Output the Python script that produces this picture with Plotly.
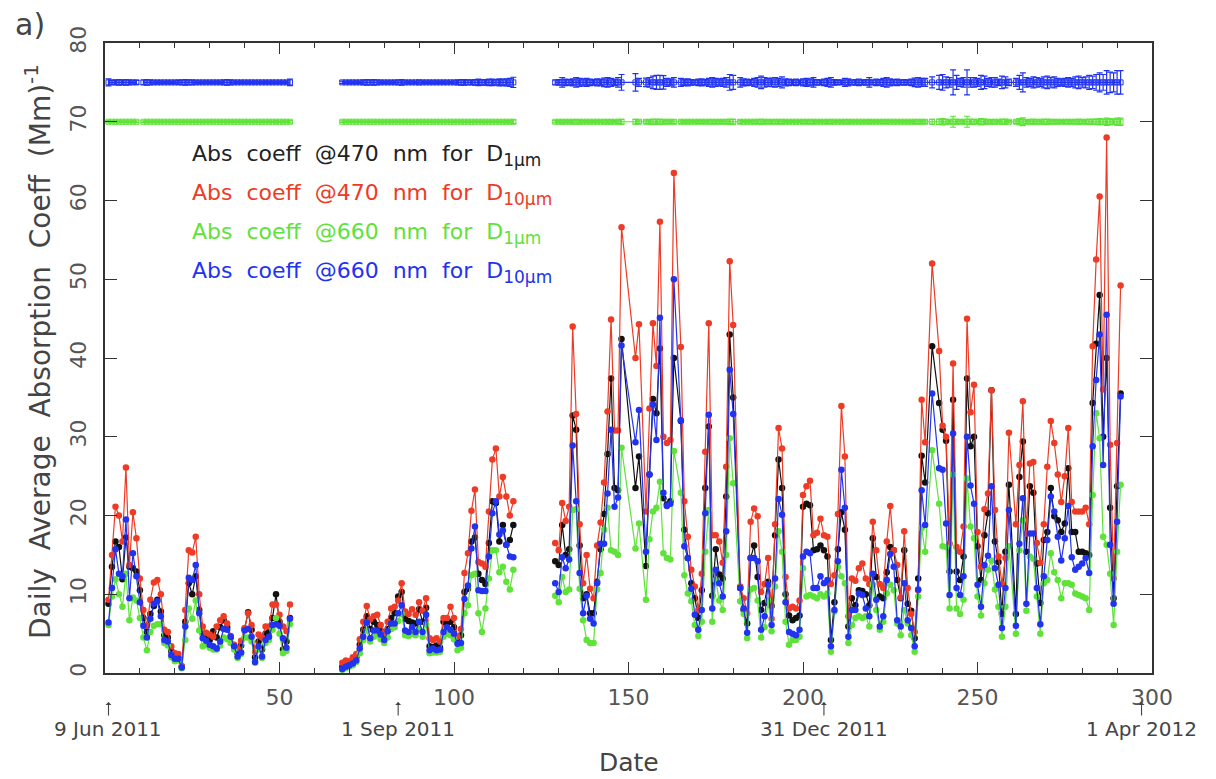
import plotly.graph_objects as go

# ---------------- data ----------------
# day index (day 1 = 9 Jun 2011)
days_seg1 = list(range(1, 54))
days_seg2 = list(range(68, 118))
days_seg3 = ([129, 130, 131, 132, 133, 134, 135, 136, 137, 138, 139, 140, 141, 142, 143, 144, 145, 146, 147, 148]
             + [152, 153, 155, 156, 157, 158, 159, 160, 161, 162, 163, 165, 166, 167, 168, 169, 170, 171, 172,
                173, 174, 175, 176, 177, 178, 179, 180, 182, 183, 184, 185, 186, 187]
             + list(range(188, 235))
             + [235, 237, 239] + list(range(240, 260)) + list(range(261, 292)))

# Abs coeff @470 nm for D10um (red)
abs470_d10_s1 = [9.3, 15.0, 21.1, 20.0, 16.7, 26.1, 13.7, 20.4, 17.1, 12.0, 8.0, 6.0, 9.3, 11.5, 11.8, 10.0, 5.5, 5.2,
                 3.4, 2.5, 2.4, 0.9, 8.0, 15.6, 15.3, 17.3, 10.0, 5.9, 5.1, 4.9, 4.6, 5.9, 6.7, 7.2, 6.3, 4.7, 3.6,
                 3.1, 4.1, 5.7, 7.6, 6.1, 2.7, 4.9, 4.5, 5.9, 5.9, 8.7, 8.7, 7.4, 5.9, 5.3, 8.7]
abs470_d10_s2 = [1.3, 1.6, 1.5, 2.0, 2.4, 4.3, 6.5, 8.5, 6.8, 7.2, 7.4, 6.1, 5.1, 6.5, 8.2, 8.4, 9.2, 11.4, 7.8, 7.5,
                 8.1, 7.4, 9.0, 7.9, 9.5, 4.4, 4.2, 4.4, 4.0, 7.0, 7.0, 8.4, 7.0, 4.6, 5.6, 12.7, 15.2, 20.6, 23.3,
                 14.1, 13.9, 13.5, 20.5, 27.1, 28.5, 22.4, 24.9, 22.4, 20.0, 21.8]
abs470_d10_s3 = ([16.5, 15.6, 21.6, 19.3, 21.1, 44.0, 32.9, 18.9, 11.4, 15.0, 10.7, 9.5, 16.2, 19.1, 24.2, 33.2, 44.9,
                  30.8, 30.8, 56.6]
                 + [40.0, 44.3, 20.5, 33.6, 44.4, 39.0, 57.3, 30.0, 29.2, 29.6, 63.5, 41.4, 21.8, 17.3, 13.1, 11.0,
                    8.0, 12.6, 28.1, 44.4, 17.5, 17.5, 16.7, 14.0, 26.2, 52.3, 44.2, 11.0, 9.5, 7.6, 19.2, 20.9, 19.9]
                 + [10.3, 11.3, 14.6, 6.9, 18.9, 31.1, 28.5, 12.2, 8.2, 8.4, 8.2, 9.2, 22.6, 23.7, 24.4, 17.5, 17.8,
                    19.6, 17.5, 17.3, 11.3, 12.4, 20.2, 33.9, 27.5, 7.2, 12.0, 11.7, 13.3, 13.9, 12.0, 11.3, 19.2,
                    15.6, 11.3, 10.8, 16.7, 21.2, 15.6, 13.7, 9.6, 18.0, 10.8, 7.5, 5.2, 10.5, 34.7]
                 + [29.3, 52.0, 40.9, 31.4, 30.0, 16.4, 39.3, 16.0, 15.4, 18.6, 45.0, 33.1, 36.6, 17.9, 13.5, 20.8,
                    22.8, 35.9, 20.7, 14.8, 11.3, 14.6, 30.5, 18.9, 26.4, 34.5, 17.7, 26.6, 26.8, 16.5, 14.0, 18.9,
                    26.2, 32.0, 29.2, 25.2, 21.7, 25.0, 31.1, 21.7, 20.5, 20.5, 20.5, 21.0, 18.9, 41.5, 52.5, 60.5,
                    36.0, 68.0, 29.0, 12.0, 29.2, 49.2])

# Abs coeff @470 nm for D1um (black)
abs470_d1_s1 = [8.8, 13.5, 16.7, 16.0, 11.9, 17.2, 13.5, 13.3, 12.9, 10.5, 7.0, 5.2, 7.5, 8.5, 9.3, 7.8, 4.8, 4.5,
                2.8, 2.0, 2.0, 0.8, 6.5, 11.4, 10.0, 12.3, 8.0, 5.0, 4.5, 4.2, 5.3, 4.5, 5.8, 6.7, 5.8, 4.5, 3.5,
                2.5, 3.5, 5.6, 7.7, 5.5, 2.0, 4.0, 3.0, 5.0, 5.2, 7.0, 10.0, 6.5, 3.0, 4.0, 7.0]
abs470_d1_s2 = [0.8, 1.1, 1.2, 1.5, 2.0, 3.6, 5.5, 7.2, 5.6, 6.5, 6.1, 5.4, 4.6, 5.6, 7.0, 7.6, 9.7, 10.3, 6.9, 6.6,
                6.4, 6.3, 8.1, 6.5, 8.3, 3.4, 3.3, 3.5, 3.2, 6.5, 6.3, 6.5, 5.8, 4.0, 4.8, 10.3, 10.7, 16.7, 17.2,
                12.6, 11.8, 11.3, 16.5, 21.8, 21.6, 16.7, 18.8, 16.3, 16.9, 18.8]
abs470_d1_s3 = ([14.2, 13.7, 18.8, 15.0, 15.7, 32.7, 30.9, 16.2, 9.5, 10.0, 7.6, 7.6, 11.6, 15.7, 20.2, 27.8, 37.4,
                 23.5, 23.2, 42.4]
                + [23.5, 27.5, 13.6, 25.2, 34.8, 33.0, 41.2, 22.2, 21.4, 21.8, 40.0, 32.0, 18.2, 14.6, 11.4, 9.5,
                   7.0, 10.5, 23.5, 31.3, 9.8, 15.7, 12.5, 12.0, 22.4, 43.0, 35.0, 10.8, 8.0, 6.3, 14.6, 16.2, 12.2]
                + [8.0, 8.9, 11.6, 8.5, 17.5, 27.1, 23.5, 10.0, 7.3, 6.7, 7.0, 7.3, 21.1, 21.5, 21.3, 15.6, 15.7,
                   16.2, 15.6, 14.8, 4.2, 9.0, 15.7, 20.4, 18.2, 5.9, 9.5, 8.6, 10.5, 10.4, 10.0, 8.6, 17.1, 12.2,
                   9.7, 9.5, 12.8, 16.0, 15.6, 11.8, 9.5, 15.6, 8.8, 7.9, 4.4, 12.0, 27.6]
                + [24.2, 41.5, 34.3, 30.9, 29.5, 12.9, 34.7, 12.9, 11.8, 14.8, 37.4, 28.8, 30.0, 16.1, 11.8, 17.5,
                   20.3, 35.9, 16.7, 14.1, 7.5, 15.4, 23.9, 7.5, 24.9, 29.4, 15.4, 23.7, 22.9, 13.9, 8.9, 16.9,
                   17.9, 23.5, 19.9, 19.4, 17.9, 19.0, 26.0, 17.9, 17.9, 15.4, 15.4, 15.2, 15.0, 34.3, 41.8, 48.0,
                   30.0, 40.0, 21.0, 9.5, 23.7, 35.5])

# Abs coeff @660 nm for D10um (blue)
abs660_d10_s1 = [6.4, 10.8, 15.7, 12.6, 12.3, 19.5, 9.5, 15.2, 12.3, 9.0, 6.0, 4.5, 6.9, 8.8, 9.1, 7.2, 4.2, 4.0,
                 2.3, 1.8, 1.8, 0.7, 5.9, 12.1, 11.8, 13.7, 7.6, 4.4, 4.1, 3.6, 3.4, 3.1, 4.0, 5.6, 5.5, 4.6, 3.4,
                 2.1, 2.6, 5.4, 5.6, 4.6, 1.4, 3.4, 2.1, 4.2, 4.6, 6.1, 6.2, 6.0, 4.4, 3.2, 6.9]
abs660_d10_s2 = [0.5, 0.8, 1.0, 1.2, 1.6, 3.1, 4.6, 6.4, 4.4, 5.4, 5.4, 4.9, 4.2, 5.3, 6.3, 6.3, 7.6, 8.6, 5.4, 5.2,
                 5.8, 5.2, 6.5, 5.2, 7.4, 2.9, 3.1, 2.9, 3.0, 5.2, 5.8, 5.5, 5.0, 3.7, 3.8, 9.4, 11.1, 15.8, 18.6,
                 10.5, 10.4, 10.4, 14.8, 20.3, 21.8, 17.6, 18.1, 16.3, 14.8, 14.7]
abs660_d10_s3 = ([11.4, 10.3, 14.7, 13.3, 14.4, 28.9, 21.8, 12.7, 7.6, 9.8, 6.9, 6.3, 11.4, 16.4, 16.4, 22.8, 30.9,
                  21.1, 22.3, 41.6]
                 + [29.3, 33.4, 15.4, 25.2, 34.1, 29.6, 45.1, 22.9, 21.2, 21.5, 50.0, 32.1, 16.1, 14.6, 10.7, 7.4,
                    5.5, 8.0, 20.3, 32.8, 8.2, 13.1, 11.4, 9.7, 18.0, 38.5, 32.9, 10.8, 8.2, 5.1, 14.6, 14.6, 14.2]
                 + [5.5, 7.2, 11.2, 6.1, 12.0, 22.1, 20.1, 9.0, 5.2, 5.0, 4.8, 5.5, 14.8, 15.4, 15.2, 10.8, 10.8,
                    12.3, 11.4, 11.8, 3.4, 8.0, 14.2, 25.8, 21.0, 4.6, 8.0, 8.0, 10.1, 9.9, 8.2, 7.2, 12.6, 9.3, 5.9,
                    7.2, 11.8, 15.1, 13.5, 6.7, 5.9, 11.4, 6.7, 5.7, 3.4, 10.6, 23.2]
                 + [18.8, 35.5, 26.0, 25.8, 19.0, 9.9, 30.4, 10.8, 9.9, 12.3, 30.0, 23.8, 21.5, 11.2, 8.4, 13.7,
                    14.9, 23.7, 13.3, 11.2, 5.7, 10.8, 20.7, 6.0, 16.4, 22.2, 8.8, 17.7, 17.7, 10.8, 6.2, 12.3, 16.9,
                    22.4, 20.5, 17.3, 14.3, 17.1, 21.2, 14.7, 13.1, 13.5, 13.9, 14.6, 12.7, 28.8, 37.2, 43.0, 26.4,
                    45.5, 16.3, 8.8, 19.2, 35.1])

# Abs coeff @660 nm for D1um (green)
abs660_d1_s1 = [6.1, 9.7, 11.9, 10.0, 8.4, 12.6, 6.7, 9.6, 9.2, 7.0, 4.5, 2.9, 5.2, 6.0, 6.2, 6.2, 3.8, 3.5, 2.0,
                1.5, 1.6, 0.6, 4.2, 8.2, 6.9, 9.2, 5.4, 3.4, 3.6, 3.2, 3.0, 3.0, 3.5, 4.5, 4.3, 3.8, 3.0, 1.9, 2.4,
                4.5, 4.5, 4.0, 1.3, 3.0, 1.9, 3.8, 4.2, 5.5, 7.0, 5.0, 2.5, 2.8, 6.2]
abs660_d1_s2 = [0.4, 0.6, 0.8, 1.0, 1.4, 2.5, 4.2, 5.4, 4.0, 4.6, 4.8, 4.3, 3.8, 4.5, 5.6, 5.8, 6.6, 7.5, 4.8, 4.7,
                5.0, 4.8, 5.6, 4.6, 6.2, 2.5, 2.6, 2.6, 2.7, 4.6, 5.0, 4.8, 4.3, 2.9, 3.2, 7.6, 8.6, 12.4, 12.6, 7.6,
                5.2, 8.2, 12.0, 15.6, 15.6, 12.8, 13.5, 11.6, 10.6, 13.1]
abs660_d1_s3 = ([9.8, 9.0, 12.2, 10.3, 10.6, 20.7, 20.8, 10.7, 6.7, 4.2, 3.8, 3.8, 10.6, 12.7, 18.2, 21.0, 15.6, 15.4,
                 15.0, 28.6]
                + [15.8, 19.0, 9.3, 17.0, 20.5, 21.0, 24.3, 15.2, 14.6, 14.4, 28.2, 22.9, 12.4, 10.1, 9.1, 6.1, 4.7,
                   6.5, 15.4, 20.7, 6.5, 11.8, 9.2, 8.0, 15.0, 29.8, 24.1, 9.1, 7.5, 4.4, 10.6, 10.8, 9.2]
                + [4.5, 5.8, 9.2, 5.3, 11.0, 18.0, 15.4, 6.5, 3.6, 4.2, 4.2, 4.6, 13.3, 9.7, 9.9, 9.7, 9.5, 10.0,
                   9.7, 10.1, 2.7, 7.8, 13.5, 12.3, 11.4, 3.8, 6.1, 7.0, 7.2, 7.0, 7.2, 5.9, 11.2, 8.0, 5.5, 6.5,
                   10.1, 11.2, 10.5, 6.3, 4.8, 8.0, 6.3, 4.8, 2.7, 9.7, 18.4]
                + [15.4, 28.3, 21.5, 16.1, 16.0, 8.2, 25.2, 8.2, 7.5, 9.3, 24.7, 18.6, 17.1, 9.7, 7.3, 11.4, 13.1,
                   14.3, 10.6, 8.4, 4.6, 8.4, 16.1, 5.0, 15.6, 19.4, 7.9, 14.8, 14.5, 9.7, 5.0, 11.4, 11.8, 15.2,
                   12.8, 11.8, 9.5, 11.4, 11.4, 11.2, 10.1, 9.9, 9.7, 9.5, 8.0, 22.6, 33.0, 29.8, 17.3, 16.3, 12.6,
                   6.1, 15.4, 23.9])

# error strips drawn at the top of the panel
strip_level_660_d10 = 75.0
strip_level_660_d1 = 70.0
strip_err_660_d10_s1 = [0.45, 0.25, 0.3, 0.35, 0.3, 0.35, 0.3, 0.2, 0.25, None, 0.3, 0.35, 0.3, 0.2, 0.2, 0.2, 0.15,
                        0.2, 0.15, 0.2, 0.25, 0.3, 0.35, 0.3, 0.3, 0.2, 0.2, 0.15, 0.2, 0.15, 0.15, 0.2, 0.15, 0.3,
                        0.35, 0.3, 0.2, 0.15, 0.2, 0.15, 0.2, 0.15, 0.2, 0.15, 0.15, 0.2, 0.15, 0.2, 0.15, 0.2, 0.15,
                        0.2, 0.4]
strip_err_660_d10_s2 = [0.15, 0.15, 0.2, 0.15, 0.2, 0.15, 0.3, 0.35, 0.3, 0.35, 0.3, 0.2, 0.15, 0.2, 0.2, 0.2, 0.3,
                        0.35, 0.2, 0.2, 0.2, 0.15, 0.3, 0.2, 0.15, 0.2, 0.2, 0.2, 0.15, 0.2, 0.2, 0.15, 0.2, 0.3,
                        0.35, 0.35, 0.3, 0.3, 0.35, 0.4, 0.35, 0.35, 0.4, 0.4, 0.35, 0.45, 0.4, 0.45, 0.5, 0.65]
strip_err_660_d10_s3 = ([0.3, 0.35, 0.6, 0.4, 0.35, 0.45, 0.6, 0.5, 0.45, 0.5, 0.4, 0.35, 0.45, 0.4, 0.55, 0.6, 0.5,
                         0.4, 0.6, 1.0]
                        + [1.1, 0.5, 0.55, 0.6, 0.8, 0.9, 0.9, 0.85, 0.5, 0.45, 0.6, 0.5, 0.4, 0.45, 0.35, 0.3, 0.4,
                           0.45, 0.35, 0.5, 0.6, 0.5, 0.45, 0.5, 0.6, 1.0, 0.9, 0.6, 0.45, 0.4, 0.35, 0.5, 0.6]
                        + [0.8, 0.6, 0.5, 0.55, 0.6, 0.5, 0.7, 0.45, 0.4, 0.35, 0.4, 0.3, 0.45, 0.5, 0.45, 0.6, 0.35,
                           0.3, 0.4, 0.5, 0.6, 0.35, 0.3, 0.25, 0.5, 0.45, 0.3, 0.35, 0.4, 0.3, 0.35, 0.6, 0.3, 0.4,
                           0.35, 0.5, 0.6, 0.45, 0.35, 0.4, 0.3, 0.35, 0.3, 0.4, 0.55, 0.6, 0.5]
                        + [0.5, 0.7, 0.9, 1.0, 0.7, 0.6, 1.6, 0.9, 0.5, 0.6, 1.6, 0.6, 0.6, 0.5, 0.9, 0.8, 0.5, 0.6,
                           0.6, 0.4, 0.8, 0.7, 0.4, 0.5, 0.9, 1.2, 0.6, 0.5, 0.7, 0.6, 0.5, 0.7, 0.8, 0.6, 0.7, 0.5,
                           0.45, 0.5, 0.6, 0.5, 0.7, 0.8, 0.6, 0.7, 0.9, 0.8, 1.0, 1.2, 1.0, 1.5, 1.3, 1.2, 1.5, 1.5])
strip_err_660_d1_s1 = [0.15, 0.1, 0.1, 0.1, 0.1, 0.1, 0.1, 0.1, 0.1, None, 0.1, 0.1, 0.1, 0.1, 0.1, 0.1, 0.1, 0.1,
                       0.1, 0.1, 0.1, 0.1, 0.1, 0.1, 0.1, 0.1, 0.1, 0.1, 0.1, 0.1, 0.1, 0.1, 0.1, 0.1, 0.1, 0.1, 0.1,
                       0.1, 0.1, 0.1, 0.1, 0.1, 0.1, 0.1, 0.1, 0.1, 0.1, 0.1, 0.15, 0.1, 0.1, 0.1, 0.15]
strip_err_660_d1_s2 = [0.1, 0.1, 0.1, 0.1, 0.1, 0.1, 0.1, 0.1, 0.1, 0.1, 0.1, 0.1, 0.1, 0.1, 0.1, 0.1, 0.1, 0.1,
                       0.1, 0.1, 0.1, 0.1, 0.1, 0.1, 0.1, 0.1, 0.1, 0.1, 0.1, 0.1, 0.1, 0.1, 0.1, 0.1, 0.1, 0.1, 0.1,
                       0.1, 0.1, 0.1, 0.1, 0.1, 0.1, 0.1, 0.1, 0.1, 0.1, 0.15, 0.15, 0.25]
strip_err_660_d1_s3 = ([0.15, 0.15, 0.2, 0.15, 0.15, 0.2, 0.25, 0.2, 0.15, 0.15, 0.15, 0.15, 0.15, 0.15, 0.2, 0.2,
                        0.2, 0.15, 0.2, 0.3]
                       + [0.3, 0.2, 0.2, 0.25, 0.3, 0.3, 0.3, 0.25, 0.2, 0.2, 0.25, 0.2, 0.15, 0.2, 0.15, 0.15, 0.2,
                          0.2, 0.15, 0.2, 0.25, 0.2, 0.2, 0.2, 0.25, 0.3, 0.3, 0.2, 0.15, 0.15, 0.15, 0.2, 0.2]
                       + [0.3, 0.2, 0.2, 0.2, 0.25, 0.2, 0.25, 0.15, 0.15, 0.15, 0.15, 0.15, 0.2, 0.2, 0.2, 0.2, 0.15,
                          0.15, 0.15, 0.2, 0.25, 0.15, 0.15, 0.15, 0.2, 0.2, 0.15, 0.15, 0.15, 0.15, 0.15, 0.2, 0.15,
                          0.15, 0.15, 0.2, 0.2, 0.15, 0.15, 0.15, 0.15, 0.15, 0.15, 0.15, 0.2, 0.25, 0.2]
                       + [0.2, 0.3, 0.35, 0.4, 0.3, 0.2, 0.7, 0.3, 0.2, 0.25, 0.7, 0.3, 0.3, 0.2, 0.4, 0.35, 0.2,
                          0.25, 0.25, 0.15, 0.3, 0.3, 0.15, 0.2, 0.4, 0.5, 0.25, 0.2, 0.3, 0.25, 0.2, 0.3, 0.3, 0.2,
                          0.25, 0.2, 0.15, 0.2, 0.25, 0.2, 0.25, 0.3, 0.2, 0.25, 0.3, 0.3, 0.35, 0.4, 0.35, 0.45, 0.4,
                          0.35, 0.45, 0.45])

date_marks_day = [1, 84, 206, 297]
date_marks_text = ["9 Jun 2011", "1 Sep 2011", "31 Dec 2011", "1 Apr 2012"]
x_ticks = [50, 100, 150, 200, 250, 300]
y_ticks = [0, 10, 20, 30, 40, 50, 60, 70, 80]

# ---------------- assemble (None breaks the line between measurement periods) ----------------
def join(a, b, c):
    return a + [None] + b + [None] + c

days = join(days_seg1, days_seg2, days_seg3)
series = [
    ("Abs coeff @470 nm for D1um", join(abs470_d1_s1, abs470_d1_s2, abs470_d1_s3), "#111111"),
    ("Abs coeff @470 nm for D10um", join(abs470_d10_s1, abs470_d10_s2, abs470_d10_s3), "#ee3b25"),
    ("Abs coeff @660 nm for D1um", join(abs660_d1_s1, abs660_d1_s2, abs660_d1_s3), "#5fe23a"),
    ("Abs coeff @660 nm for D10um", join(abs660_d10_s1, abs660_d10_s2, abs660_d10_s3), "#2233f0"),
]
for name, vals, col in series:
    assert len(vals) == len(days), (name, len(vals), len(days))

err_b = join(strip_err_660_d10_s1, strip_err_660_d10_s2, strip_err_660_d10_s3)
err_g = join(strip_err_660_d1_s1, strip_err_660_d1_s2, strip_err_660_d1_s3)
assert len(err_b) == len(days) and len(err_g) == len(days), (len(err_b), len(err_g), len(days))

fig = go.Figure()

for lvl, errs, col in [(strip_level_660_d1, err_g, "#5fe23a"), (strip_level_660_d10, err_b, "#2233f0")]:
    ys = [lvl if (e is not None and d is not None) else None for d, e in zip(days, errs)]
    fig.add_trace(go.Scatter(
        x=days, y=ys, mode="lines+markers", connectgaps=False,
        line=dict(color=col, width=1.2),
        marker=dict(symbol="square-open", size=5, color=col, line=dict(width=1, color=col)),
        error_y=dict(type="data", array=[e if e is not None else 0 for e in errs], visible=True,
                     color=col, thickness=1.2, width=3),
        hoverinfo="skip", showlegend=False))

for name, vals, col in series:
    fig.add_trace(go.Scatter(
        x=days, y=vals, mode="lines+markers", name=name, connectgaps=False,
        line=dict(color=col, width=1.2),
        marker=dict(symbol="circle", size=6.5, color=col, line=dict(width=0)),
        showlegend=False))

axis_col = "#333333"
fig.update_layout(
    width=1216, height=779,
    margin=dict(l=105, r=64, t=43, b=106),
    plot_bgcolor="white", paper_bgcolor="white",
    font=dict(family="DejaVu Sans", color="#444444"),
    showlegend=False,
    xaxis=dict(range=[0, 300], showgrid=False, zeroline=False, showline=True, linecolor=axis_col,
               linewidth=1.6, mirror="allticks", ticks="inside", ticklen=11, tickwidth=1.3,
               tickcolor=axis_col, tickmode="array", tickvals=x_ticks,
               tickfont=dict(size=22, color="#555555"), ticklabelstandoff=4,
               minor=dict(ticks="inside", ticklen=5, tickwidth=1.2, tickcolor=axis_col, dtick=10, tick0=0)),
    yaxis=dict(range=[0, 80], showgrid=False, zeroline=False, showline=True, linecolor=axis_col,
               linewidth=1.6, mirror="allticks", ticks="inside", ticklen=12, tickwidth=1.3,
               tickcolor=axis_col, tickmode="array", tickvals=y_ticks, tickangle=-90,
               tickfont=dict(size=22, color="#555555"), ticklabelstandoff=8),
)

def px_x(px):
    return (px - 105) / 1047.0

def px_y(py):
    return (673 - py) / 630.0

SP = "\u00a0 "
ann = []
# legend text block
leg_rows = [
    ("@470", "1", "#222222", 155),
    ("@470", "10", "#ee3b25", 194),
    ("@660", "1", "#5fe23a", 233),
    ("@660", "10", "#2233f0", 272),
]
for wl, dia, col, py in leg_rows:
    txt = ("Abs" + SP + "coeff" + SP + wl + SP + "nm" + SP + "for" + SP + "D"
           + "<sub><span style='font-size:17px'>" + dia + "\u03bcm</span></sub>")
    ann.append(dict(text=txt, xref="paper", yref="paper", x=px_x(190), y=px_y(py), xanchor="left",
                    yanchor="middle", showarrow=False, font=dict(size=22, color=col, family="DejaVu Sans")))

# date markers below axis: small arrow pointing up at the date, label underneath
for d, t in zip(date_marks_day, date_marks_text):
    ann.append(dict(text="", xref="x", yref="paper", x=d, y=px_y(702), showarrow=True,
                    ax=0, ay=15, arrowhead=1, arrowsize=0.9, arrowwidth=1.1, arrowcolor="#444444",
                    standoff=0, startstandoff=0))
    ann.append(dict(text=t, xref="x", yref="paper", x=d, y=px_y(729), xanchor="center",
                    yanchor="middle", showarrow=False, font=dict(size=20, color="#444444")))

ann.append(dict(text="Date", xref="paper", yref="paper", x=0.5, y=px_y(762), xanchor="center",
                yanchor="middle", showarrow=False, font=dict(size=25, color="#444444")))
ytitle = ("Daily" + SP + "Average" + SP + "Absorption" + SP + "Coeff" + SP + "(Mm)<sup>-1</sup>")
ann.append(dict(text=ytitle, xref="paper", yref="paper",
                x=px_x(38), y=px_y(352), xanchor="center", yanchor="middle", textangle=-90,
                showarrow=False, font=dict(size=28, color="#444444")))
ann.append(dict(text="a)", xref="paper", yref="paper", x=px_x(30), y=px_y(24), xanchor="center",
                yanchor="middle", showarrow=False, font=dict(size=30, color="#444444")))

fig.update_layout(annotations=ann)
fig.write_html("out.html")
